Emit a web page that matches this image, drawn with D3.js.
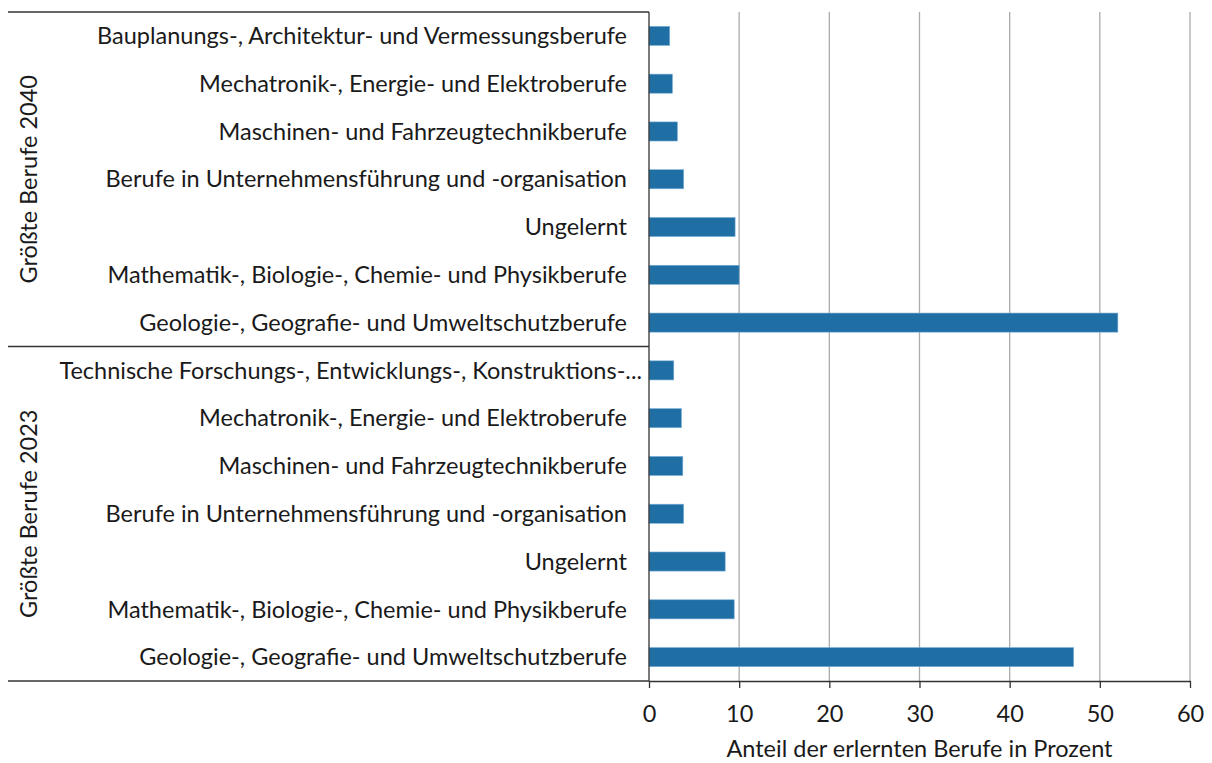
<!DOCTYPE html>
<html>
<head>
<meta charset="utf-8">
<script src="https://cdn.jsdelivr.net/npm/d3@7"></script>
<style>
  body { margin: 0; background: #fff; }
  text { font-family: Lato, "Open Sans", sans-serif; fill: #1a1a1a; }
</style>
</head>
<body>
<svg id="chart" width="1212" height="763"></svg>
<script>
// groups, top to bottom
var groups = ["Größte Berufe 2040", "Größte Berufe 2023"];

var labels2040 = [
  "Bauplanungs-, Architektur- und Vermessungsberufe",
  "Mechatronik-, Energie- und Elektroberufe",
  "Maschinen- und Fahrzeugtechnikberufe",
  "Berufe in Unternehmensführung und -organisation",
  "Ungelernt",
  "Mathematik-, Biologie-, Chemie- und Physikberufe",
  "Geologie-, Geografie- und Umweltschutzberufe"
];
var values2040 = [2.3, 2.6, 3.15, 3.85, 9.55, 10.0, 52.0];

var labels2023 = [
  "Technische Forschungs-, Entwicklungs-, Konstruktions-...",
  "Mechatronik-, Energie- und Elektroberufe",
  "Maschinen- und Fahrzeugtechnikberufe",
  "Berufe in Unternehmensführung und -organisation",
  "Ungelernt",
  "Mathematik-, Biologie-, Chemie- und Physikberufe",
  "Geologie-, Geografie- und Umweltschutzberufe"
];
var values2023 = [2.75, 3.6, 3.75, 3.85, 8.45, 9.45, 47.1];

var xTicks = [0, 10, 20, 30, 40, 50, 60];
var xTitle = "Anteil der erlernten Berufe in Prozent";

var rows = [];
labels2040.forEach((l, i) => rows.push({key: "a" + i, group: 0, label: l, value: values2040[i]}));
labels2023.forEach((l, i) => rows.push({key: "b" + i, group: 1, label: l, value: values2023[i]}));

var svg = d3.select("#chart");
var plotLeft = 649, plotRight = 1190, plotTop = 12, plotBottom = 681, frameLeft = 8;
var fontSize = "23.5px";

var x = d3.scaleLinear().domain([0, 60]).range([plotLeft, plotRight]);
var y = d3.scaleBand().domain(rows.map(d => d.key)).range([plotTop, plotBottom]).paddingInner(0.6).paddingOuter(0.3);

// gridlines
svg.append("g")
  .selectAll("line")
  .data(xTicks.slice(1))
  .enter()
  .append("line")
  .attr("x1", d => x(d)).attr("x2", d => x(d))
  .attr("y1", plotTop).attr("y2", plotBottom)
  .attr("stroke", "#ababab")
  .attr("stroke-width", 1.3);

// bars
svg.append("g")
  .selectAll("rect")
  .data(rows)
  .enter()
  .append("rect")
  .attr("x", x(0))
  .attr("y", d => y(d.key))
  .attr("width", d => x(d.value) - x(0))
  .attr("height", y.bandwidth())
  .attr("fill", "#1f6fa5")
  .attr("stroke", "#7fb0d8")
  .attr("stroke-width", 0.6);

// category labels
svg.append("g")
  .selectAll("text")
  .data(rows)
  .enter()
  .append("text")
  .attr("x", d => d.label.endsWith("...") ? plotLeft - 7 : plotLeft - 22)
  .attr("y", d => y(d.key) + y.bandwidth() / 2)
  .attr("dy", "0.35em")
  .attr("text-anchor", "end")
  .style("font-size", fontSize)
  .text(d => d.label);

// group frame lines
var groupEdge = [plotTop, (plotTop + plotBottom) / 2, plotBottom];
svg.append("g")
  .selectAll("line")
  .data(groupEdge)
  .enter()
  .append("line")
  .attr("x1", frameLeft).attr("x2", plotLeft)
  .attr("y1", d => d).attr("y2", d => d)
  .attr("stroke", "#333")
  .attr("stroke-width", 1.3);

// group labels
svg.append("g")
  .selectAll("text")
  .data(groups)
  .enter()
  .append("text")
  .attr("transform", (d, i) => "translate(29," + ((groupEdge[i] + groupEdge[i + 1]) / 2) + ") rotate(-90)")
  .attr("dy", "0.35em")
  .attr("text-anchor", "middle")
  .style("font-size", fontSize)
  .text(d => d);

// y axis line
svg.append("line")
  .attr("x1", plotLeft).attr("x2", plotLeft)
  .attr("y1", plotTop).attr("y2", plotBottom)
  .attr("stroke", "#333")
  .attr("stroke-width", 1.3);

// x axis
var xAxis = svg.append("g")
  .attr("transform", "translate(0," + plotBottom + ")")
  .call(d3.axisBottom(x).tickValues(xTicks).tickSize(7).tickPadding(17).tickSizeOuter(0));
xAxis.select(".domain").attr("stroke", "#333").attr("stroke-width", 1.3);
xAxis.selectAll(".tick line").attr("stroke", "#333").attr("stroke-width", 1.3);
xAxis.selectAll(".tick text")
  .style("font-family", "Lato, 'Open Sans', sans-serif")
  .style("font-size", fontSize)
  .attr("fill", "#1a1a1a");

svg.append("text")
  .attr("x", (plotLeft + plotRight) / 2)
  .attr("y", 757)
  .attr("text-anchor", "middle")
  .style("font-size", fontSize)
  .text(xTitle);
</script>
</body>
</html>
